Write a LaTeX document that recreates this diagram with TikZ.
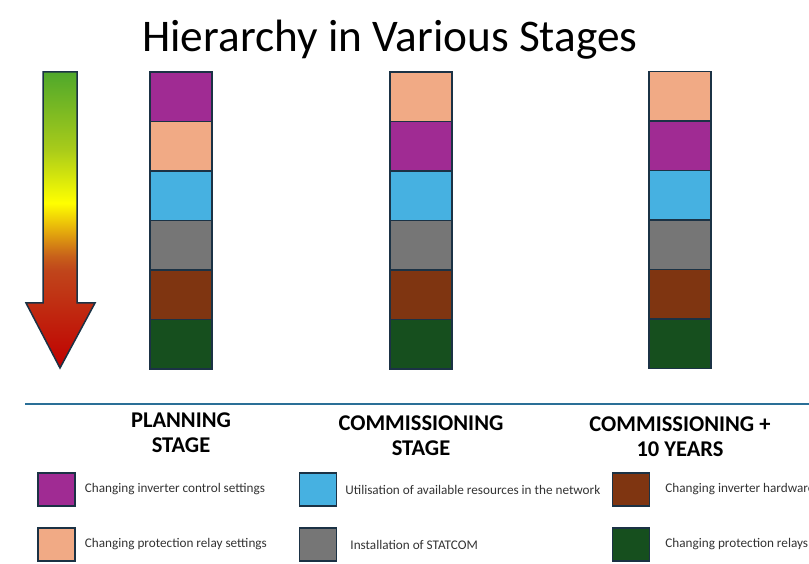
\documentclass[tikz,border=0pt]{standalone}
\usepackage{fontspec}
\setmainfont{Carlito}
\usetikzlibrary{positioning}
\definecolor{plum}{HTML}{A02B93}
\definecolor{peach}{HTML}{F1AA85}
\definecolor{sky}{HTML}{46B1E1}
\definecolor{stone}{HTML}{767676}
\definecolor{rust}{HTML}{7F3511}
\definecolor{forest}{HTML}{164F1E}
\definecolor{edge}{HTML}{1B3245}
\definecolor{rule}{HTML}{2A6F97}
\definecolor{hgreen}{HTML}{4FA82B}
\definecolor{hlime}{HTML}{A8CB1A}
\definecolor{hyellow}{HTML}{FFFF00}
\definecolor{hamber}{HTML}{E5AE0C}
\definecolor{horange}{HTML}{C8621A}
\definecolor{hbrick}{HTML}{C0451B}
\definecolor{hred}{HTML}{C00000}
\pgfdeclareverticalshading{heat}{100bp}{color(0bp)=(hred); color(25bp)=(hred);
  color(41.5bp)=(hbrick); color(44bp)=(horange); color(48.3bp)=(hamber);
  color(52.9bp)=(hyellow); color(62bp)=(hlime); color(75bp)=(hgreen); color(100bp)=(hgreen)}
\tikzset{
  block/.style={rectangle, draw=edge, line width=1.5pt, minimum width=62pt, minimum height=49.5pt, inner sep=0pt},
  keybox/.style={rectangle, draw=edge, line width=1.5pt, minimum width=37pt, minimum height=33pt, inner sep=0pt},
  keytext/.style={anchor=west, font=\fontsize{13.2}{15}\selectfont, text=black!80, inner sep=0pt},
  stage/.style={align=center, font=\bfseries\fontsize{22.5}{25}\selectfont}
}
\begin{document}
\begin{tikzpicture}[x=1pt, y=-1pt]
  \useasboundingbox (0,0) rectangle (809,564);
  % Titolo
  \node (title) at (390,40) {\fontsize{45.3}{50}\selectfont Hierarchy in Various Stages};
  % Freccia
  \shade[shading=heat, draw=edge, line width=1.5pt]
    (43,72) -- (77,72) -- (77,303) -- (95,303) -- (60,368) -- (26,303) -- (43,303) -- cycle;
  % Colonne
  \foreach \i/\colour in {1/plum, 2/peach, 3/sky, 4/stone, 5/rust, 6/forest}
    \node[block, fill=\colour] (plan\i) at (181, 72+49.5*\i-24.75) {};
  \foreach \i/\colour in {1/peach, 2/plum, 3/sky, 4/stone, 5/rust, 6/forest}
    \node[block, fill=\colour] (comm\i) at (421, 72+49.5*\i-24.75) {};
  \foreach \i/\colour in {1/peach, 2/plum, 3/sky, 4/stone, 5/rust, 6/forest}
    \node[block, fill=\colour] (ten\i) at (680, 71.5+49.5*\i-24.75) {};
  % Linea
  \coordinate (ruleL) at (25,404);
  \coordinate (ruleR) at (809,404);
  \draw[rule, line width=2pt] (ruleL) -- (ruleR);
  % Intestazioni
  \node[stage] (planlabel) at (181,433) {PLANNING\\STAGE};
  \node[stage] (commlabel) at (421,436) {COMMISSIONING\\STAGE};
  \node[stage] (tenlabel) at (680,437) {COMMISSIONING +\\10 YEARS};
  % Legenda
  \foreach \nodename/\x/\y/\colour/\gap/\txt in {
      k1/56.5/489.5/plum/9/Changing inverter control settings,
      k2/56.5/544.5/peach/9/Changing protection relay settings,
      k3/318/489.5/sky/8/Utilisation of available resources in the network,
      k4/318/544.5/stone/13/Installation of STATCOM,
      k5/631/489.5/rust/15/Changing inverter hardware,
      k6/631/544.5/forest/15/Changing protection relays}
  {
    \node[keybox, fill=\colour] (\nodename) at (\x,\y) {};
    \node[keytext, right=\gap pt of \nodename] (\nodename t) {\txt};
  }
\end{tikzpicture}
\end{document}
